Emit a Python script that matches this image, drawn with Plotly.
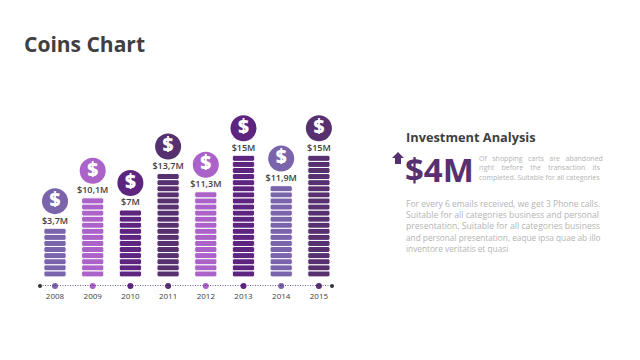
import plotly.graph_objects as go

years = ["2008", "2009", "2010", "2011", "2012", "2013", "2014", "2015"]
labels = ["$3,7M", "$10,1M", "$7M", "$13,7M", "$11,3M", "$15M", "$11,9M", "$15M"]
coin_counts = [8, 13, 11, 17, 14, 20, 15, 20]
colors = ["#7A65AC", "#AB62C9", "#5D2480", "#57306F", "#AB62C9", "#5D2480", "#7A65AC", "#57306F"]

DARK = "#404040"
GREY = "#B4B4B4"
PURPLE = "#57306F"
FONT = "Open Sans"

L, R, T, B = 40, 332, 100, 286
PITCH_X = 37.7
PITCH_Y = 6.08


def px(x):
    return (x - L) / (R - L)


def py(y):
    return (B - y) / (B - T)


fig = go.Figure()

# stacks of coins
bar_x, bar_base, bar_col = [], [], []
for year, n, c in zip(years, coin_counts, colors):
    for level in range(n):
        bar_x.append(year)
        bar_base.append(level)
        bar_col.append(c)
fig.add_trace(go.Bar(
    x=bar_x, y=[1] * len(bar_x), base=bar_base,
    width=0.59,
    marker=dict(color=bar_col, line=dict(color="white", width=1.0)),
    showlegend=False, hoverinfo="skip",
))

axis_y = -1.5
# dotted timeline
fig.add_trace(go.Scatter(
    x=[-15 / PITCH_X, 277 / PITCH_X], y=[axis_y, axis_y], xaxis="x2",
    mode="lines+markers",
    line=dict(color="#4A2A60", width=1.5, dash="1px 1.5px"),
    marker=dict(color="#333333", size=4),
    showlegend=False, hoverinfo="skip", cliponaxis=False,
))
fig.add_trace(go.Scatter(
    x=years, y=[axis_y] * len(years), mode="markers",
    marker=dict(color=colors, size=6),
    showlegend=False, hoverinfo="skip", cliponaxis=False,
))
# value labels
fig.add_trace(go.Scatter(
    x=years, y=[n + 1.15 for n in coin_counts], mode="text", text=labels,
    textfont=dict(family=FONT, size=9, color=DARK, weight=600),
    showlegend=False, hoverinfo="skip", cliponaxis=False,
))
# coins with dollar sign
fig.add_trace(go.Scatter(
    x=years, y=[n + 4.45 for n in coin_counts], mode="markers+text",
    text=["$"] * len(years), textposition="middle center",
    textfont=dict(family=FONT, size=19, color="white", weight=800),
    marker=dict(color=colors, size=26),
    showlegend=False, hoverinfo="skip", cliponaxis=False,
))


def text(s, x, y, size, color, weight=400, anchor="left"):
    fig.add_annotation(
        xref="paper", yref="paper", x=px(x), y=py(y), text=s, showarrow=False,
        xanchor=anchor, yanchor="middle", align="left",
        borderpad=0, borderwidth=0,
        font=dict(family=FONT, size=size, color=color, weight=weight),
    )


def sp(s, n):
    """widen word gaps with n non-breaking spaces (justified lines)."""
    return s.replace(" ", "\u00a0" * n)


text("Coins Chart", 24, 44, 21, DARK, 700)
text("Investment Analysis", 406, 137, 12.8, DARK, 700)
text("$4M", 405, 169, 33, PURPLE, 700)

for s, y, n in [("Of shopping carts are abandoned", 158, 3),
                ("right before the transaction its", 167.5, 4),
                ("completed. Suitable for all categories", 177, 1)]:
    text(sp(s, n), 479, y, 7, GREY)

for s, y, size in [("For every 6 emails received, we get 3 Phone calls.", 203, 8.5),
                   ("Suitable for all categories business and personal", 214.5, 8.6),
                   ("presentation, Suitable for all categories business", 226, 8.6),
                   ("and personal presentation, eaque ipsa quae ab illo", 237, 8.25),
                   ("inventore veritatis et quasi", 248, 8.25)]:
    text(s, 406, y, size, GREY)

# arrow next to the big figure
ax = [392, 398, 404, 401, 401, 395, 395]
ay = [158, 152, 158, 158, 164, 164, 158]
path = "M " + " L ".join(f"{px(a)} {py(b)}" for a, b in zip(ax, ay)) + " Z"
fig.add_shape(type="path", xref="paper", yref="paper", path=path,
              fillcolor=PURPLE, line=dict(width=0))

fig.update_layout(
    width=640, height=360,
    margin=dict(l=L, r=640 - R, t=T, b=360 - B),
    paper_bgcolor="white", plot_bgcolor="white",
    barmode="overlay", barcornerradius=2,
    showlegend=False,
    xaxis=dict(type="category", categoryorder="array", categoryarray=years,
               range=[-15 / PITCH_X, 277 / PITCH_X],
               showgrid=False, zeroline=False, showline=False, ticks="outside",
               ticklen=2, tickcolor="rgba(0,0,0,0)",
               tickfont=dict(family=FONT, size=8, color=DARK)),
    xaxis2=dict(overlaying="x", range=[-15 / PITCH_X, 277 / PITCH_X], visible=False),
    yaxis=dict(range=[axis_y, axis_y + (B - T) / PITCH_Y], visible=False),
)

fig.write_html("out.html", config={"displayModeBar": False},
               post_script="document.body.style.margin='0';document.body.style.overflow='hidden';")
